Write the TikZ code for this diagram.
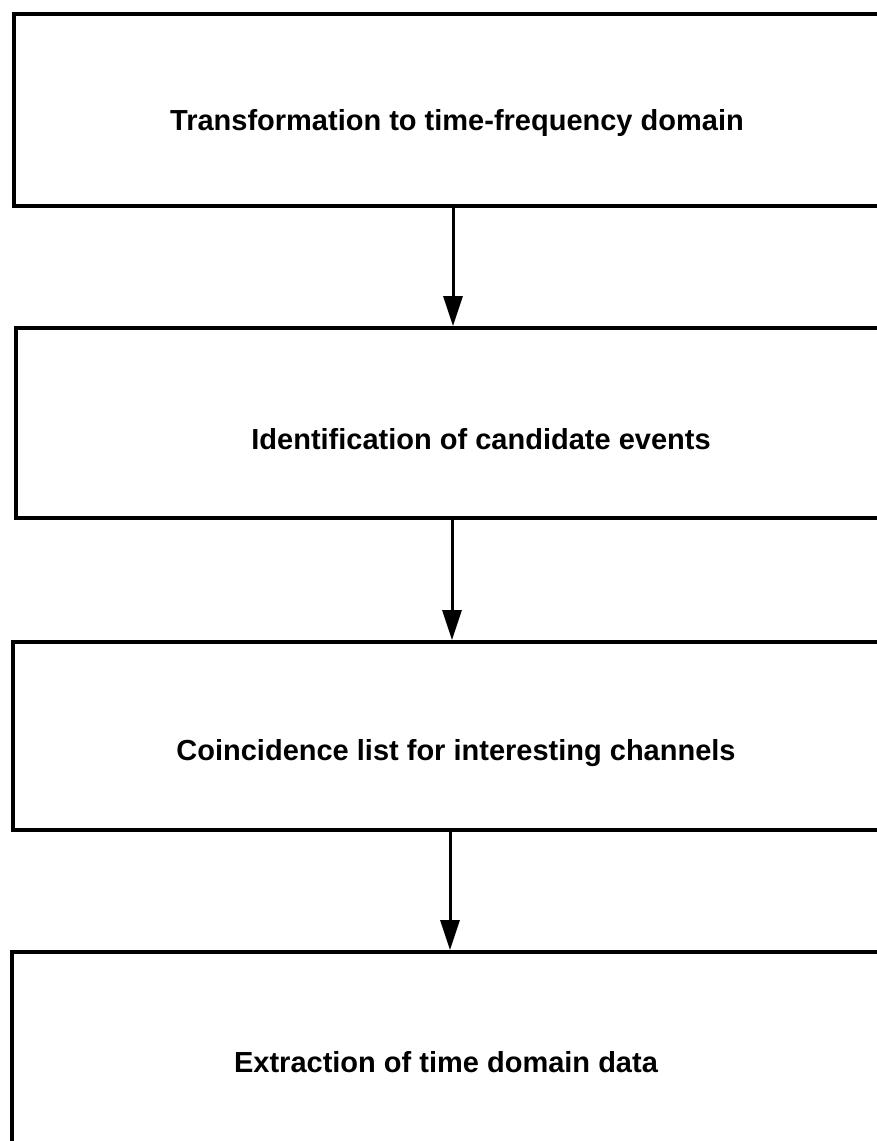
\documentclass[tikz,border=0pt]{standalone}
\usepackage{fontspec}
\setmainfont{Liberation Sans}
\usetikzlibrary{arrows.meta}
\begin{document}
\begin{tikzpicture}[x=1pt,y=-1pt,
  box/.style={draw=black,line width=3.5pt,rectangle,inner sep=0pt,anchor=north west},
  lbl/.style={font=\fontsize{29}{32}\selectfont\bfseries,inner sep=0pt},
  arr/.style={line width=3pt,-{Triangle[length=30pt,width=19pt]}}]
\useasboundingbox (0,0) rectangle (877,1141);
\fill[white] (0,0) rectangle (877,1141);
\clip (0,0) rectangle (877,1141);
\node[box,minimum width=900pt,minimum height=192pt] (b1) at (12,12) {};
\node[box,minimum width=900pt,minimum height=190pt] (b2) at (14,326) {};
\node[box,minimum width=900pt,minimum height=188pt] (b3) at (11,640) {};
\node[box,minimum width=900pt,minimum height=260pt] (b4) at (10,950) {};
\node[lbl] (t1) at (457,123) {Transformation to time-frequency domain};
\node[lbl] (t2) at (481,439) {Identification of candidate events};
\node[lbl] (t3) at (456,753) {Coincidence list for interesting channels};
\node[lbl] (t4) at (446,1062) {Extraction of time domain data};
\coordinate (a1) at (453,0);
\coordinate (a2) at (452,0);
\coordinate (a3) at (450,0);
\draw[arr] (b1.south -| a1) -- (b2.north -| a1);
\draw[arr] (b2.south -| a2) -- (b3.north -| a2);
\draw[arr] (b3.south -| a3) -- (b4.north -| a3);
\end{tikzpicture}
\end{document}
